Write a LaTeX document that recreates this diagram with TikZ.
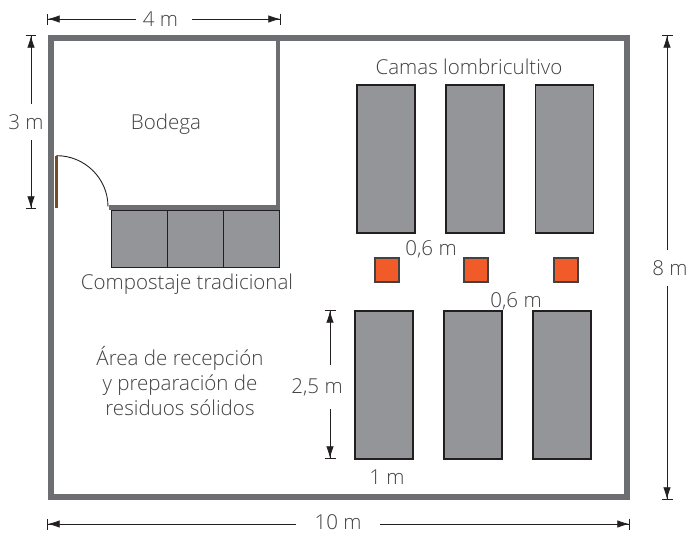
\documentclass[tikz,border=0pt]{standalone}
\usepackage{fontspec}
\setmainfont{Open Sans Light}
\usetikzlibrary{arrows.meta, positioning}
\definecolor{wallgray}{RGB}{109, 110, 113}
\definecolor{bedgray}{RGB}{147, 149, 152}
\definecolor{edgedark}{RGB}{35, 31, 32}
\definecolor{feederorange}{RGB}{241, 90, 41}
\definecolor{doorbrown}{RGB}{117, 76, 36}
\definecolor{textgray}{RGB}{65, 64, 66}

\begin{document}
\begin{tikzpicture}[
    x=0.02cm, y=-0.02cm,
    wall/.style={draw=wallgray, line width=3.4pt},
    innerwall/.style={draw=wallgray, line width=2.4pt},
    bed/.style={rectangle, draw=edgedark, fill=bedgray, minimum width=1.16cm, minimum height=2.96cm, inner sep=0pt, line width=0.8pt},
    bin/.style={rectangle, draw=edgedark, fill=bedgray, minimum width=1.12cm, minimum height=1.14cm, inner sep=0pt, line width=0.45pt},
    feeder/.style={rectangle, draw=edgedark!85, fill=feederorange, minimum width=0.48cm, minimum height=0.48cm, inner sep=0pt, line width=0.7pt},
    label/.style={font=\fontsize{11.7}{14.2}\selectfont, text=textgray, align=center, inner sep=0pt},
    dimarrow/.style={-{Latex[length=2.4mm, width=1.5mm]Bar[width=2.2mm, line width=0.4pt]}, draw=edgedark, line width=0.45pt},
]
\useasboundingbox (0,0) rectangle (686,532);

% Outer walls
\draw[wall] (51,38) rectangle (627,497);

% Bodega walls
\draw[innerwall] (278,38) -- (278,207.5) -- (109,207.5);

% Door
\node[rectangle, fill=doorbrown, minimum width=0.05cm, minimum height=1.04cm, inner sep=0pt] (door) at (56.5,182) {};
\draw[edgedark, line width=0.5pt] (door.north) arc[start angle=90, end angle=0, x radius=1.03cm, y radius=1.02cm];

% Compost bins
\node[bin] (bin1) at (139.5,238.5) {};
\node[bin] (bin2) at (195.5,238.5) {};
\node[bin] (bin3) at (251.5,238.5) {};

% Upper beds
\node[bed, line width=1.1pt] (bedA) at (386,159) {};
\node[bed] (bedB) at (475,159) {};
\node[bed] (bedC) at (564.5,159) {};

% Feeders
\node[feeder] (feedA) at (387,270) {};
\node[feeder] (feedB) at (476,270) {};
\node[feeder] (feedC) at (566,270) {};

% Lower beds
\node[bed] (bedD) at (384,385) {};
\node[bed] (bedE) at (473,385) {};
\node[bed] (bedF) at (562,385) {};

% Labels
\node[label] (camas) at (469,67) {Camas lombricultivo};
\node[label] (bodega) at (166,124) {Bodega};
\node[label] (compost) at (187,284) {Compostaje tradicional};
\node[label] (recepcion) at (180,381) {Área de recepción\\y preparación de\\residuos sólidos};
\node[label] (sepA) at (431,249) {0,6 m};
\node[label] (sepB) at (516,301) {0,6 m};
\node[label] (widthbed) at (387,477) {1 m};

% Dimension labels
\node[label, inner xsep=0.14cm] (dimfour) at (160.5,19) {4 m};
\node[label, inner ysep=0.2cm] (dimthree) at (26,122) {3 m};
\node[label, inner ysep=0.2cm] (dimeight) at (670,268) {8 m};
\node[label, inner ysep=0.26cm] (dimbed) at (317,387) {2,5 m};
\node[label, inner xsep=0.37cm] (dimten) at (338,522) {10 m};

% Dimension ends
\coordinate (fourL) at (47,19);
\coordinate (fourR) at (281,19);
\coordinate (threeT) at (31,35);
\coordinate (threeB) at (31,209);
\coordinate (eightT) at (667,35);
\coordinate (eightB) at (667,500);
\coordinate (bedT) at (330,310);
\coordinate (bedB2) at (330,459);
\coordinate (tenL) at (47,524);
\coordinate (tenR) at (630,524);

% Dimension arrows
\draw[dimarrow] (dimfour.west) -- (fourL);
\draw[dimarrow] ([xshift=0.14cm]dimfour.east) -- (fourR);
\draw[dimarrow] (threeT |- dimthree.north) -- (threeT);
\draw[dimarrow] (threeB |- dimthree.south) -- (threeB);
\draw[dimarrow] (eightT |- dimeight.north) -- (eightT);
\draw[dimarrow] (eightB |- dimeight.south) -- (eightB);
\draw[dimarrow] (bedT |- dimbed.north) -- (bedT);
\draw[dimarrow] (bedB2 |- dimbed.south) -- (bedB2);
\draw[dimarrow] (dimten.west |- tenL) -- (tenL);
\draw[dimarrow] (dimten.east |- tenR) -- (tenR);

\end{tikzpicture}
\end{document}
